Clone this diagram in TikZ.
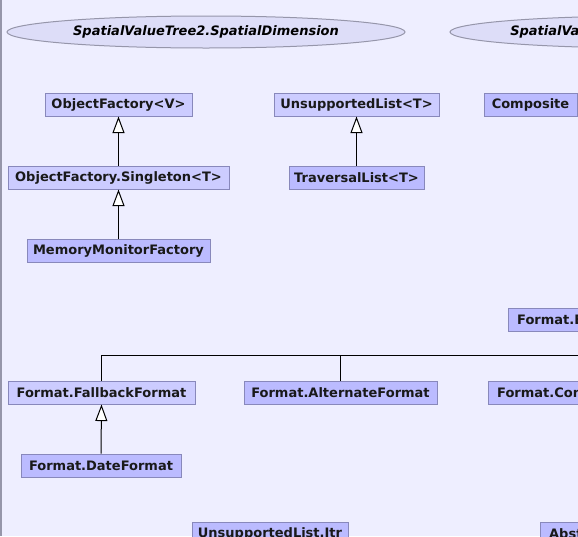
\documentclass[tikz,border=0pt]{standalone}
\usepackage{fontspec}
\setmainfont{DejaVu Sans}
\usetikzlibrary{arrows.meta,shapes.geometric}
\definecolor{bgc}{RGB}{238,238,255}
\definecolor{lightc}{RGB}{204,204,255}
\definecolor{darkc}{RGB}{187,187,255}
\definecolor{bordc}{RGB}{136,136,187}
\definecolor{ellfill}{RGB}{221,221,248}
\definecolor{elldraw}{RGB}{150,150,170}
\tikzset{
  box/.style={draw=bordc, line width=0.75pt, minimum height=17.25pt, inner sep=0pt,
    font=\fontsize{9.75pt}{11pt}\selectfont\bfseries, text=black!90},
  lbox/.style={box, fill=lightc},
  dbox/.style={box, fill=darkc},
  cutbox/.style={anchor=west, text width=#1, align=left, inner xsep=6.5pt},
  ell/.style={ellipse, draw=elldraw, fill=ellfill, line width=0.75pt, inner sep=0pt,
    minimum width=298.5pt, minimum height=24pt,
    font=\fontsize{9.75pt}{11pt}\selectfont\bfseries\itshape},
  elltext/.style={inner sep=0pt, anchor=west, font=\fontsize{9.75pt}{11pt}\selectfont\bfseries\itshape},
  inh/.style={line width=0.75pt, -{Triangle[length=12.4pt,width=9pt,fill=white,line width=0.75pt]}},
  conn/.style={line width=0.75pt}
}
\begin{document}
\begin{tikzpicture}[x=0.75pt,y=-0.75pt]
\useasboundingbox (0,0) rectangle (578,536);
\clip (0,0) rectangle (578,536);
\fill[bgc] (0,0) rectangle (578,536);
\draw[elldraw, line width=1.5pt] (0.5,0) -- (0.5,536);

\node[ell] (sd) at (206,32) {SpatialValueTree2.SpatialDimension};
\node[ell] (sv) at (649,32) {};
\node[elltext] (svt) at (510,32) {SpatialVa};

\node[lbox, minimum width=110.25pt] (of) at (118.5,104.5) {ObjectFactory<V>};
\node[lbox, minimum width=165.75pt] (ofs) at (118.5,177.5) {ObjectFactory.Singleton<T>};
\node[dbox, minimum width=137.25pt] (mmf) at (118.5,251) {MemoryMonitorFactory};

\node[lbox, minimum width=123.75pt] (ul) at (356.5,104.5) {UnsupportedList<T>};
\node[dbox, minimum width=101.25pt] (tl) at (356.5,177.5) {TraversalList<T>};
\node[dbox, minimum width=69.75pt] (comp) at (530.5,104.5) {Composite};

\node[dbox, cutbox=100pt] (fe) at (508,319.5) {Format.E};
\node[lbox, minimum width=140.25pt] (ff) at (101.5,392.5) {Format.FallbackFormat};
\node[dbox, minimum width=144.75pt] (fa) at (340.5,392.5) {Format.AlternateFormat};
\node[dbox, cutbox=100pt] (fc) at (488,392.5) {Format.Con};
\node[dbox, minimum width=120pt] (df) at (101,465.5) {Format.DateFormat};

\node[dbox, minimum width=117pt] (uli) at (270,533.5) {UnsupportedList.Itr};
\node[dbox, cutbox=100pt] (abst) at (540,533.5) {Abst};

\draw[inh] (ofs.north) -- (of.south);
\draw[inh] (mmf.north) -- (ofs.south);
\draw[inh] (tl.north) -- (ul.south);
\draw[inh] (df.north) -- (ff.south);

\coordinate (hr) at (600,355);
\draw[conn] (ff.north) |- (hr);
\draw[conn] (fa.north) -- (fa.north |- hr);
\end{tikzpicture}
\end{document}
